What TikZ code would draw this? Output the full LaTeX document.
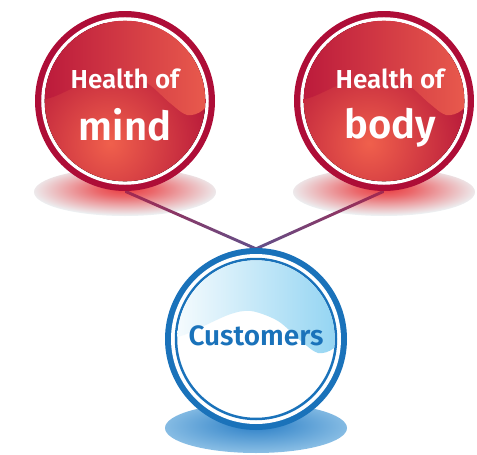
\documentclass[tikz,border=0pt]{standalone}
\usepackage{fontspec}
\setmainfont{Fira Sans}[BoldFont={Fira Sans SemiBold}]
\usetikzlibrary{calc}
\definecolor{ringred}{HTML}{AE0D37}
\definecolor{spotred}{HTML}{F0604C}
\definecolor{hlleft}{HTML}{B8153A}
\definecolor{hlright}{HTML}{EC5F4E}
\definecolor{shgrey}{HTML}{EDF0F2}
\definecolor{glowred}{HTML}{EA3A3E}
\definecolor{ringblue}{HTML}{1A72BA}
\definecolor{hlblue}{HTML}{8BD1F1}
\definecolor{shblue}{HTML}{ADD6F0}
\definecolor{glowblue}{HTML}{2A7EC6}
\definecolor{linered}{HTML}{A3284F}
\definecolor{linepurp}{HTML}{62508A}
\pgfdeclareradialshading{redglow}{\pgfpoint{0bp}{4bp}}{color(0bp)=(glowred); color(8bp)=(glowred!75!shgrey); color(26bp)=(shgrey); color(50bp)=(shgrey)}
\pgfdeclareradialshading{blueglow}{\pgfpoint{0bp}{4bp}}{color(0bp)=(glowblue); color(36bp)=(shblue); color(50bp)=(shblue)}
\newcommand\wavetop{plot[smooth] coordinates {(-95,0) (-72,-4) (-28,-24) (-5,-28) (22,-18) (45,2) (62,14) (78,9) (95,-14)} -- (95,-100) -- (-95,-100) -- cycle}
\begin{document}
\begin{tikzpicture}[x=1pt,y=-1pt,
	ball/.style={circle,inner sep=0pt,minimum size=180pt},
	smalltxt/.style={anchor=base,text=white,font=\bfseries\fontsize{26}{26}\selectfont},
	bigtxt/.style={anchor=base,text=white,font=\bfseries\fontsize{40}{40}\selectfont}]
	\useasboundingbox (0,0) rectangle (477,455);
	\node[ball] (mind) at (125,101) {};
	\node[ball] (body) at (384,101) {};
	\node[ball] (cust) at (256,339) {};
	\foreach \n in {mind,body}
		\shade[shading=redglow] ($(\n)+(0,91)$) ellipse (91 and 24);
	\shade[shading=blueglow] ($(cust)+(0,89)$) ellipse (91 and 25);
	\shade[left color=linered, right color=linepurp] ($(mind.south)+(0,-1.6)$) -- ($(cust.north)+(0,-1.6)$) -- ($(cust.north)+(0,1.6)$) -- ($(mind.south)+(0,1.6)$) -- cycle;
	\shade[left color=linepurp, right color=linered] ($(cust.north)+(0,-1.6)$) -- ($(body.south)+(0,-1.6)$) -- ($(body.south)+(0,1.6)$) -- ($(cust.north)+(0,1.6)$) -- cycle;
	\foreach \n in {mind,body} {
		\fill[ringred] (\n) circle (90);
		\draw[white,line width=3.5pt] (\n) circle (82);
		\begin{scope}
			\clip (\n) circle (80.3);
			\fill[inner color=spotred, outer color=ringred] ($(\n)+(-15,42)$) circle (120);
			\shade[left color=hlleft, right color=hlright, shift={(\n)}] \wavetop;
		\end{scope}
	}
	\fill[ringblue] (cust) circle (91);
	\fill[white] (cust) circle (85);
	\draw[ringblue,line width=2.5pt] (cust) circle (80);
	\begin{scope}
		\clip (cust) circle (78.7);
		\shade[left color=white, right color=hlblue, shift={(cust)}] \wavetop;
	\end{scope}
	\node[smalltxt] (mindtop) at ($(mind)+(0,-13)$) {Health of};
	\node[bigtxt] (mindword) at ($(mind)+(0,39)$) {mind};
	\node[smalltxt] (bodytop) at ($(body)+(6,-13)$) {Health of};
	\node[bigtxt] (bodyword) at ($(body)+(6,37)$) {body};
	\node[smalltxt,text=ringblue,font=\bfseries\fontsize{28}{28}\selectfont] (custword) at ($(cust)+(0,6)$) {Customers};
\end{tikzpicture}
\end{document}
